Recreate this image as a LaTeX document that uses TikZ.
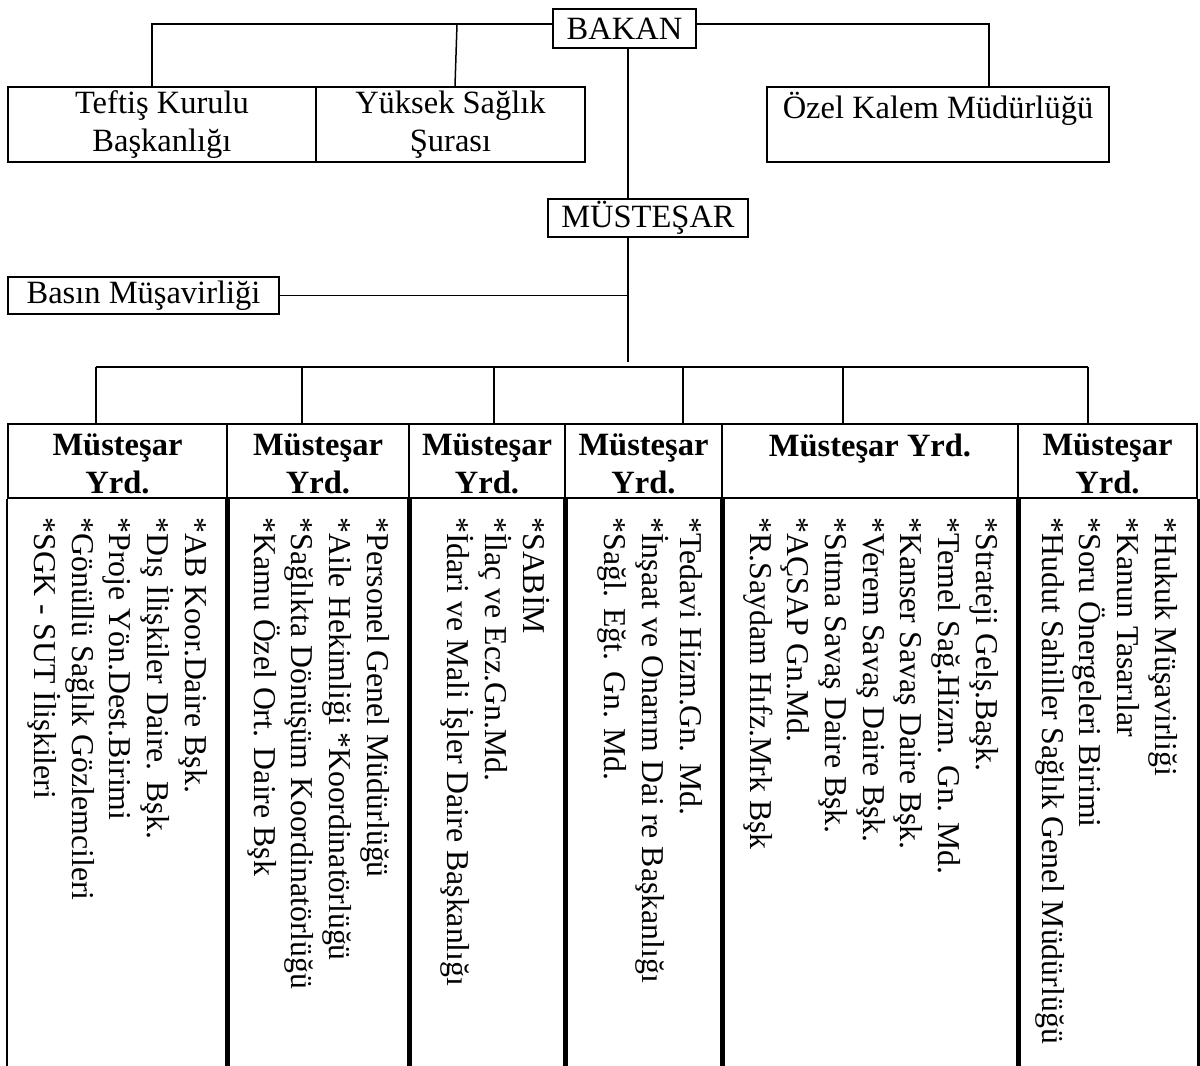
\documentclass[tikz,border=0pt]{standalone}
\usepackage{fontspec}
\setmainfont{Liberation Serif}
\usetikzlibrary{calc, positioning}
\newcommand{\orgfont}{\fontsize{32.5}{37.5}\selectfont}
\newcommand{\itemfont}{\fontsize{31.8}{37.7}\selectfont}

\begin{document}
\begin{tikzpicture}[x=1pt, y=-1pt,
    box/.style={draw, line width=2.3pt, inner sep=0pt, align=center, font=\orgfont},
    cell/.style={draw, line width=2.5pt, inner sep=0pt, minimum height=74pt},
    head/.style={inner sep=0pt, align=center, font=\orgfont\bfseries},
    conn/.style={line width=1.5pt},
    item/.style={rotate=-90, anchor=base west, inner sep=0pt, font=\itemfont}]
  \useasboundingbox (0,0) rectangle (1200,1066);

  \node[box, minimum width=143pt, minimum height=39pt] (bakan) at (624.5,28.5) {BAKAN};
  \node[box, minimum width=308pt, minimum height=75pt] (teftis) at (162,124.5) {Teftiş Kurulu\\Başkanlığı};
  \node[box, minimum width=269pt, minimum height=75pt] (yuksek) at (450.5,124.5) {Yüksek Sağlık\\Şurası};
  \node[box, minimum width=342pt, minimum height=75pt] (ozel) at (938,124.5) {Özel Kalem Müdürlüğü\\~};
  \node[box, minimum width=200pt, minimum height=38pt] (mustesar) at (648,218) {MÜSTEŞAR};
  \node[box, minimum width=271pt, minimum height=37pt] (basin) at (143.5,295.5) {Basın Müşavirliği};

  \coordinate (tl) at (152,24);
  \coordinate (ty) at (457,24);
  \coordinate (tr) at (989,24);
  \coordinate (spine) at (628,362);
  \draw[conn] (bakan.west |- tl) -- (tl) -- (tl |- teftis.north);
  \draw[conn] (ty) -- ([xshift=4.5pt]yuksek.north);
  \draw[conn] (bakan.east |- tr) -- (tr) -- (tr |- ozel.north);
  \draw[conn] (bakan.south -| spine) -- (mustesar.north -| spine);
  \draw[conn] (mustesar.south -| spine) -- (spine);
  \draw[conn] (basin.east) -- (basin.east -| spine);

  \node[cell, minimum width=219pt] (h1) at (117.5,461) {};
  \node[cell, minimum width=182pt] (h2) at (318,461) {};
  \node[cell, minimum width=156pt] (h3) at (487,461) {};
  \node[cell, minimum width=157pt] (h4) at (643.5,461) {};
  \node[cell, minimum width=296pt] (h5) at (870,461) {};
  \node[cell, minimum width=179pt] (h6) at (1107.5,461) {};
  \foreach \h in {h1, h2, h3, h4, h6}
    \node[head, below=11pt of \h.north] (t-\h) {Müsteşar\\Yrd.};
  \node[head, below=11pt of h5.north] (t-h5) {Müsteşar Yrd.};

  \coordinate (d1) at (96,367);
  \coordinate (d2) at (302,367);
  \coordinate (d3) at (494,367);
  \coordinate (d4) at (683,367);
  \coordinate (d5) at (843,367);
  \coordinate (d6) at (1088,367);
  \draw[conn] (d1) -- (d6);
  \foreach \d/\h in {d1/h1, d2/h2, d3/h3, d4/h4, d5/h5, d6/h6}
    \draw[conn] (\d) -- (\d |- \h.north);

  \coordinate (bot) at (0,1066);
  \foreach \h in {h1, h2, h3, h4, h5, h6}
    \draw[line width=2.5pt] (\h.south west) -- (\h.south west |- bot)
      (\h.south east) -- (\h.south east |- bot);

  \foreach \t [count=\i] in {{*AB Koor.Daire Bşk.}, {*Dış İlişkiler Daire. Bşk.}, {*Proje Yön.Dest.Birimi}, {*Gönüllü Sağlık Gözlemcileri}, {*SGK - SUT İlişkileri}}
    \node[item] (a\i) at ($(h1.south east)+({-5.3-37.7*\i},18)$) {\t};
  \foreach \t [count=\i] in {{*Personel Genel Müdürlüğü}, {*Aile Hekimliği *Koordinatörlüğü}, {*Sağlıkta Dönüşüm Koordinatörlüğü}, {*Kamu Özel Ort. Daire Bşk}}
    \node[item] (b\i) at ($(h2.south east)+({-5.3-37.7*\i},18)$) {\t};
  \foreach \t [count=\i] in {{*SABİM}, {*İlaç ve Ecz.Gn.Md.}, {*İdari ve Mali İşler Daire Başkanlığı}}
    \node[item] (c\i) at ($(h3.south east)+({-5.3-37.7*\i},18)$) {\t};
  \foreach \t [count=\i] in {{*Tedavi Hizm.Gn. Md.}, {*İnşaat ve Onarım Dai re Başkanlığı}, {*Sağl. Eğt. Gn. Md.}}
    \node[item] (e\i) at ($(h4.south east)+({-5.3-37.7*\i},18)$) {\t};
  \foreach \t [count=\i] in {{*Strateji Gelş.Başk.}, {*Temel Sağ.Hizm. Gn. Md.}, {*Kanser Savaş Daire Bşk.}, {*Verem Savaş Daire Bşk.}, {*Sıtma Savaş Daire Bşk.}, {*AÇSAP Gn.Md.}, {*R.Saydam Hıfz.Mrk Bşk}}
    \node[item] (f\i) at ($(h5.south east)+({-5.3-37.7*\i},18)$) {\t};
  \foreach \t [count=\i] in {{*Hukuk Müşavirliği}, {*Kanun Tasarılar}, {*Soru Önergeleri Birimi}, {*Hudut Sahiller Sağlık Genel Müdürlüğü}}
    \node[item] (g\i) at ($(h6.south east)+({-5.3-37.7*\i},18)$) {\t};
\end{tikzpicture}
\end{document}
